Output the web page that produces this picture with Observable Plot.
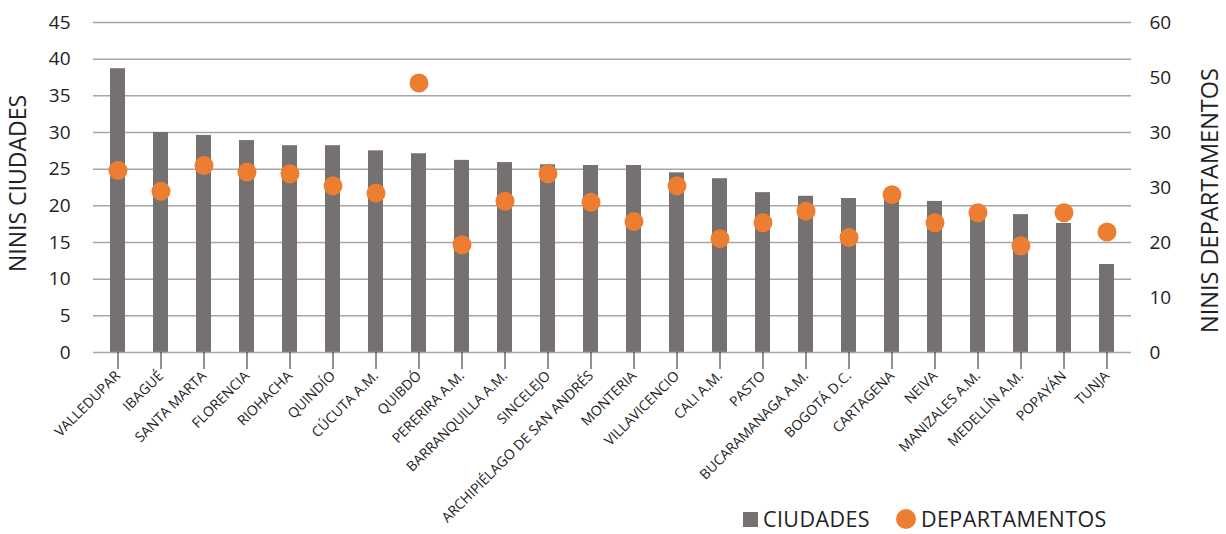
<!DOCTYPE html>
<html>
<head>
<meta charset="utf-8">
<script src="https://cdn.jsdelivr.net/npm/d3@7"></script>
<script src="https://cdn.jsdelivr.net/npm/@observablehq/plot@0.6"></script>
<style>
  body { margin: 0; background: #fff; font-family: "Open Sans", "Noto Sans", sans-serif; }
  #wrap { position: relative; width: 1226px; height: 534px; overflow: hidden; }
  #legend { position: absolute; left: 743px; top: 505px; height: 28px; display: flex; align-items: center; font-size: 21.5px; line-height: 28px; color: #222; }
  .sw { display: inline-block; margin-right: 5px; }
</style>
</head>
<body>
<div id="wrap">
  <div id="chart"></div>
  <div id="legend">
    <span class="sw" style="width:15px;height:15px;background:#767171"></span><span style="letter-spacing:0.4px">CIUDADES</span>
    <span class="sw" style="width:20px;height:20px;border-radius:50%;background:#ED7D31;margin-left:26px"></span><span style="letter-spacing:0.4px">DEPARTAMENTOS</span>
  </div>
</div>
<script>
const categories = ["VALLEDUPAR","IBAGUÉ","SANTA MARTA","FLORENCIA","RIOHACHA","QUINDÍO","CÚCUTA A.M.","QUIBDÓ","PERERIRA A.M.","BARRANQUILLA A.M.","SINCELEJO","ARCHIPIÉLAGO DE SAN ANDRÉS","MONTERIA","VILLAVICENCIO","CALI A.M.","PASTO","BUCARAMANAGA A.M.","BOGOTÁ D.C.","CARTAGENA","NEIVA","MANIZALES A.M.","MEDELLÍN A.M.","POPAYÁN","TUNJA"];
const ciudades = [38.7,30.0,29.6,28.9,28.2,28.2,27.5,27.1,26.2,25.9,25.6,25.5,25.5,24.5,23.7,21.8,21.3,21.0,20.9,20.6,19.6,18.8,17.6,12.0];
const departamentos = [33.1,29.3,34.0,32.8,32.5,30.3,29.0,49.0,19.6,27.5,32.5,27.3,23.8,30.3,20.7,23.6,25.7,20.9,28.7,23.6,25.4,19.4,25.4,21.9];
const leftTicks = [0,5,10,15,20,25,30,35,40,45];
const rightTicks = [0,10,20,30,40,50,60];
const rightTickLabels = ["0","10","20","30","30","50","60"];

const ratio = 45 / 60;
const rows = categories.map((c, i) => ({cat: c, ciudades: ciudades[i], dep: departamentos[i] * ratio}));

const chart = Plot.plot({
  width: 1226,
  height: 534,
  marginLeft: 93,
  marginRight: 95,
  marginTop: 22,
  marginBottom: 182,
  style: {fontFamily: "'Open Sans', 'Noto Sans', sans-serif", color: "#222", background: "#fff"},
  x: {domain: categories, paddingInner: 0.653, paddingOuter: 0.29, label: null},
  y: {domain: [0, 45], label: null},
  marks: [
    Plot.ruleY(leftTicks.slice(1), {stroke: "#a6a6a6", strokeWidth: 1.5}),
    Plot.barY(rows, {x: "cat", y: "ciudades", fill: "#767171"}),
    Plot.ruleY([0], {stroke: "#a6a6a6", strokeWidth: 1.5}),
    Plot.dot(rows, {x: "cat", y: "dep", r: 9.5, fill: "#ED7D31"}),
    Plot.axisY({ticks: leftTicks, anchor: "left", tickSize: 0, tickPadding: 23, fontSize: 19, label: null}),
    Plot.axisY({
      ticks: rightTicks.map(v => v * ratio), anchor: "right", tickSize: 0, tickPadding: 18, fontSize: 19, label: null,
      tickFormat: d => rightTickLabels[rightTicks.indexOf(Math.round(d / ratio))]
    }),
    Plot.axisX({anchor: "bottom", tickSize: 17, stroke: "#222", tickRotate: -45, tickPadding: 4, fontSize: 14, label: null}),
    Plot.text(["NINIS CIUDADES"], {frameAnchor: "left", textAnchor: "middle", dx: -75, dy: -4, rotate: -90, fontSize: 23, text: d => d, fill: "#222"}),
    Plot.text(["NINIS DEPARTAMENTOS"], {frameAnchor: "right", textAnchor: "middle", dx: 79, dy: 13, rotate: -90, fontSize: 23.5, text: d => d, fill: "#222"})
  ]
});
document.getElementById("chart").appendChild(chart);
</script>
</body>
</html>
